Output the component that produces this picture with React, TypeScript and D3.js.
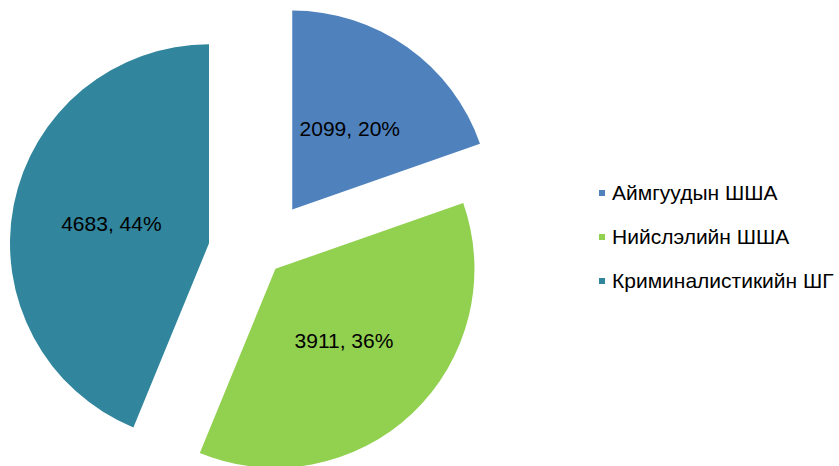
import React, { useEffect, useRef } from 'react';
import * as d3 from 'd3';

const categories = ['Аймгуудын ШША', 'Нийслэлийн ШША', 'Криминалистикийн ШГ'];
const values = [2099, 3911, 4683];
const percentLabels = ['20%', '36%', '44%'];
const colors = ['#4F81BD', '#92D050', '#31859C'];

// how far each slice is pulled out of the pie (px)
const explode = [54, 21, 53];

const W = 839;
const H = 466;

export default function App() {
  const ref = useRef<SVGSVGElement>(null);

  useEffect(() => {
    const svg = d3.select(ref.current);
    svg.selectAll('*').remove();

    const radius = 199;
    const cx = 261;
    const cy = 253.6;

    const pie = d3.pie<number>().sort(null).value((d) => d);
    const arcs = pie(values);
    const arc = d3.arc<d3.PieArcDatum<number>>().innerRadius(0).outerRadius(radius);

    const g = svg.append('g').attr('transform', 'translate(' + cx + ',' + cy + ')');

    const slice = g
      .selectAll('.slice')
      .data(arcs)
      .enter()
      .append('g')
      .attr('class', 'slice')
      .attr('transform', function (d, i) {
        const mid = (d.startAngle + d.endAngle) / 2;
        const dx = Math.sin(mid) * explode[i];
        const dy = -Math.cos(mid) * explode[i];
        return 'translate(' + dx + ',' + dy + ')';
      });

    slice
      .append('path')
      .attr('d', arc)
      .style('fill', function (d, i) {
        return colors[i];
      });

    slice
      .append('text')
      .attr('transform', function (d) {
        const c = arc.centroid(d);
        return 'translate(' + c[0] + ',' + c[1] + ')';
      })
      .attr('dy', '0.35em')
      .style('text-anchor', 'middle')
      .style('font-family', '"Liberation Sans", Arial, sans-serif')
      .style('font-size', '21px')
      .style('fill', '#000')
      .text(function (d, i) {
        return values[i] + ', ' + percentLabels[i];
      });

    // Legend
    const legend = svg
      .selectAll('.legend')
      .data(categories)
      .enter()
      .append('g')
      .attr('class', 'legend')
      .attr('transform', function (d, i) {
        return 'translate(599,' + (193 + i * 44) + ')';
      });

    legend
      .append('rect')
      .attr('x', 0)
      .attr('y', -3)
      .attr('width', 6)
      .attr('height', 6)
      .style('fill', function (d, i) {
        return colors[i];
      });

    legend
      .append('text')
      .attr('x', 13)
      .attr('dy', '0.35em')
      .style('font-family', '"Liberation Sans", Arial, sans-serif')
      .style('font-size', '21px')
      .style('fill', '#000')
      .text(function (d) {
        return d;
      });
  }, []);

  return (
    <svg
      ref={ref}
      width={W}
      height={H}
      style={{ position: 'absolute', left: 0, top: 0, background: '#fff' }}
    />
  );
}
